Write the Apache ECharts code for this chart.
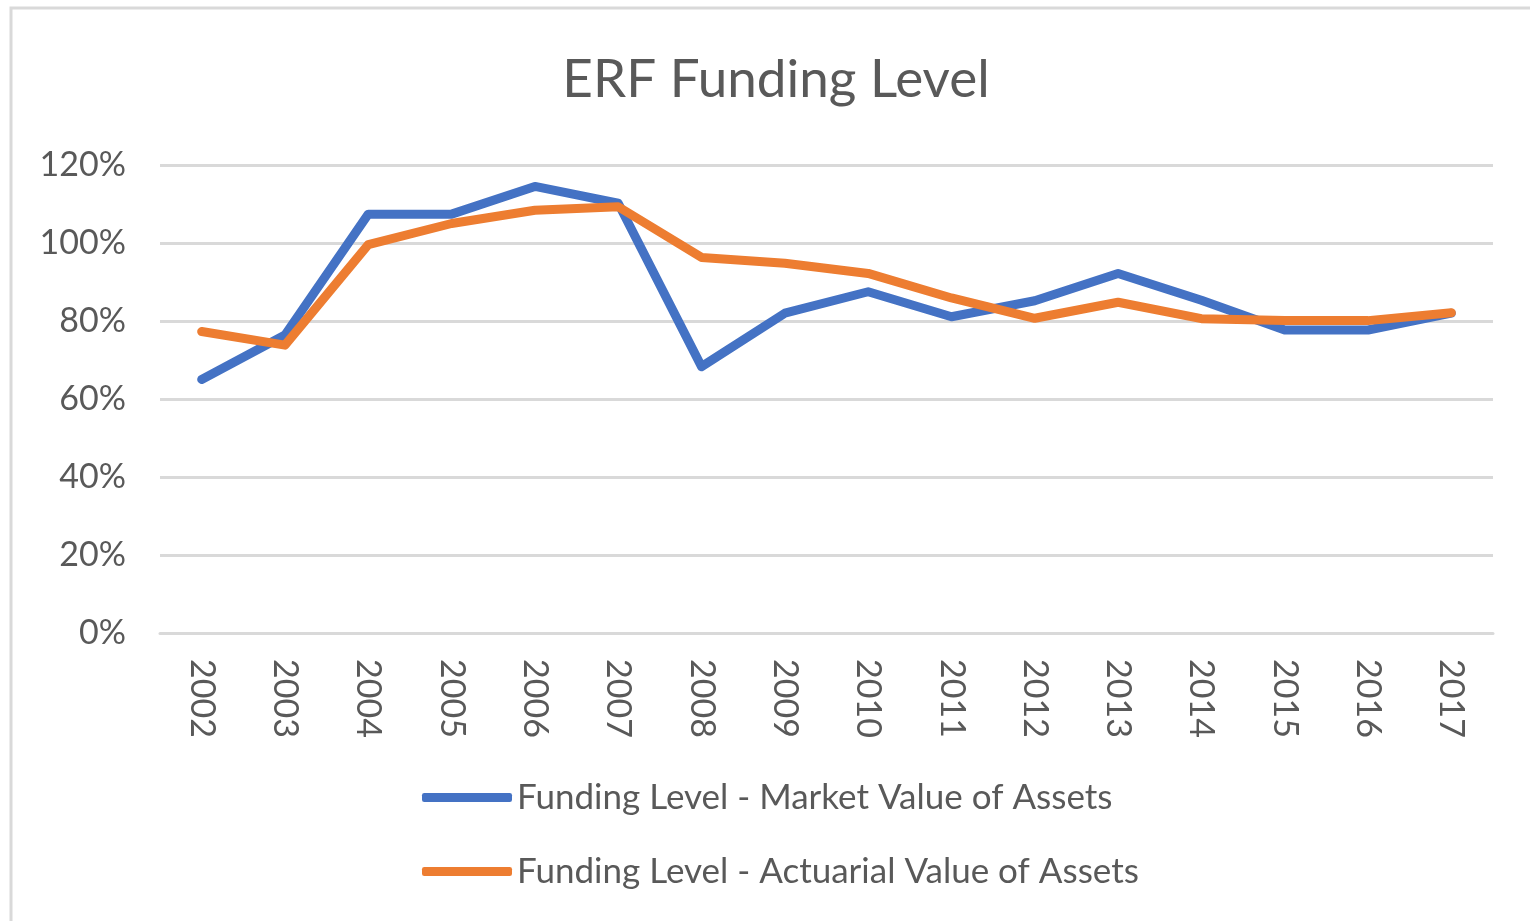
<!DOCTYPE html>
<html>
<head>
<meta charset="utf-8">
<script src="https://cdn.jsdelivr.net/npm/echarts@6/dist/echarts.min.js"></script>
<style>
html,body{margin:0;padding:0;background:#fff;}
#chart{width:1530px;height:921px;}
</style>
</head>
<body>
<div id="chart"></div>
<script>
const titleText = 'ERF Funding Level';
const years = ['2002','2003','2004','2005','2006','2007','2008','2009','2010','2011','2012','2013','2014','2015','2016','2017'];
const marketName = 'Funding Level - Market Value of Assets';
const actuarialName = 'Funding Level - Actuarial Value of Assets';
const marketValues = [65, 76.4, 107.4, 107.4, 114.5, 110.2, 68.3, 82, 87.5, 81.1, 85.2, 92.2, 85.3, 77.7, 77.7, 82];
const actuarialValues = [77.3, 73.8, 99.6, 105, 108.4, 109.3, 96.3, 94.8, 92.2, 85.9, 80.7, 84.8, 80.6, 80.1, 80.1, 82.1];
const yTicks = {min: 0, max: 120, interval: 20};

const chart = echarts.init(document.getElementById('chart'));
const font = 'Lato, "Open Sans", sans-serif';
const textColor = '#595959';
chart.setOption({
  backgroundColor: '#ffffff',
  animation: false,
  graphic: [{
    type: 'rect',
    shape: {x: 11, y: 8, width: 1560, height: 960},
    style: {fill: 'none', stroke: '#d9d9d9', lineWidth: 3},
    silent: true
  }],
  title: {
    text: titleText,
    left: 771,
    top: 48,
    textAlign: 'center',
    textStyle: {fontFamily: font, fontSize: 53, fontWeight: 'normal', color: textColor}
  },
  grid: {left: 160, right: 37, top: 165, bottom: 288, containLabel: false},
  legend: {
    orient: 'vertical',
    left: 417,
    top: 775,
    itemGap: 39,
    itemWidth: 90,
    itemHeight: 9,
    icon: 'roundRect',
    textStyle: {fontFamily: font, fontSize: 35, color: textColor, lineHeight: 34, padding: [0, 0, 0, 0]},
    data: [marketName, actuarialName]
  },
  xAxis: {
    type: 'category',
    data: years,
    boundaryGap: true,
    axisLine: {show: true, lineStyle: {color: '#d9d9d9', width: 3}},
    axisTick: {show: false},
    axisLabel: {rotate: -90, margin: 26, fontFamily: font, fontSize: 34, color: textColor, interval: 0}
  },
  yAxis: {
    type: 'value',
    min: yTicks.min, max: yTicks.max, interval: yTicks.interval,
    axisLine: {show: false},
    axisTick: {show: false},
    splitLine: {lineStyle: {color: '#d9d9d9', width: 3}},
    axisLabel: {formatter: '{value}%', margin: 34, fontFamily: font, fontSize: 34, color: textColor}
  },
  series: [
    {
      name: marketName, type: 'line', data: marketValues,
      symbol: 'none', z: 2,
      lineStyle: {color: '#4472C4', width: 9, cap: 'round', join: 'round'},
      itemStyle: {color: '#4472C4'}
    },
    {
      name: actuarialName, type: 'line', data: actuarialValues,
      symbol: 'none', z: 3,
      lineStyle: {color: '#ED7D31', width: 9, cap: 'round', join: 'round'},
      itemStyle: {color: '#ED7D31'}
    }
  ]
});
</script>
</body>
</html>
